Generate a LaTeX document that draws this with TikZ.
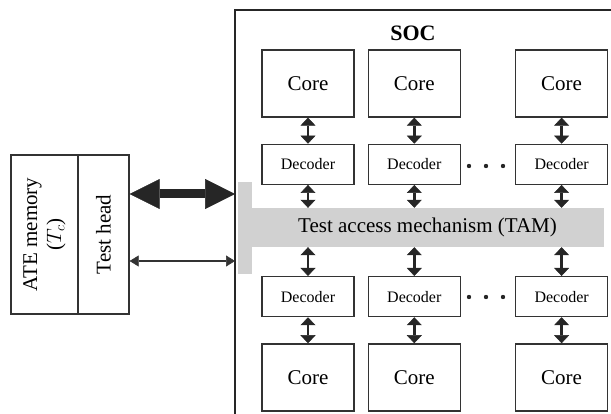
\documentclass[tikz,border=0pt]{standalone}
\usepackage{fontspec}
\setmainfont{Liberation Serif}
\usetikzlibrary{positioning, arrows.meta}
\tikzset{
x=1pt, y=-1pt, % one unit per pixel, y grows downwards
core/.style={draw=black!80, line width=1.3pt, minimum width=92pt, minimum height=67pt, inner sep=0pt, font=\fontsize{21}{21}\selectfont}, % the core boxes
dec/.style={core, minimum height=40pt, font=\fontsize{16}{16}\selectfont}, % the decoder boxes
link/.style={{Triangle[width=15pt,length=8pt,line width=0.5pt]}-{Triangle[width=15pt,length=8pt,line width=0.5pt]}, line width=2.4pt, draw=black!85}, % short arrows between the boxes
bus/.style={{Triangle[width=30pt,length=30pt,line width=0.5pt]}-{Triangle[width=30pt,length=30pt,line width=0.5pt]}, line width=9pt, draw=black!85}, % wide link to the tester
wire/.style={{Triangle[width=11pt,length=9pt,line width=0.5pt]}-{Triangle[width=11pt,length=9pt,line width=0.5pt]}, line width=1.4pt, draw=black!80}, % thin link to the tester
ate/.style={draw=black!80, line width=1.3pt, rotate=90, minimum width=159pt, inner sep=0pt, align=center, font=\fontsize{21}{24}\selectfont}, % tester boxes
tamfill/.style={fill=black!18}, % grey of the TAM
}

\begin{document}
\begin{tikzpicture}
    \useasboundingbox (0,0) rectangle (611,414);
    % SOC frame (runs off the picture)
    \draw[draw=black!85, line width=2.8pt] (620,10) -| (235,420);
    \node[font=\bfseries\fontsize{22}{22}\selectfont] (soc) at (413,33) {SOC};

    % tester
    \node[ate, minimum height=67pt] (mem) at (44.5,234.5) {ATE memory\\($T_c$)};
    \node[ate, minimum height=51pt] (head) at (103.5,234.5) {Test head};

    % TAM
    \fill[tamfill] (238,182) rectangle (252,274);
    \node[tamfill, minimum width=353pt, minimum height=39pt, inner sep=0pt, font=\fontsize{21}{21}\selectfont] (tam) at (427.5,227.5) {Test access mechanism (TAM)};
    \coordinate (hub1) at (235,194);
    \coordinate (hub2) at (235,261);

    % upper row
    \node[core] (c1) at (308,83.5) {Core};
    \node[core, right=13pt of c1] (c2) {Core};
    \node[core, right=54pt of c2] (c3) {Core};
    \node[dec, below=26pt of c1] (d1) {Decoder};
    \node[dec, below=26pt of c2] (d2) {Decoder};
    \node[dec, below=26pt of c3] (d3) {Decoder};

    % lower row
    \node[dec, below=91pt of d1] (e1) {Decoder};
    \node[dec, below=91pt of d2] (e2) {Decoder};
    \node[dec, below=91pt of d3] (e3) {Decoder};
    \node[core, below=26pt of e1] (f1) {Core};
    \node[core, below=26pt of e2] (f2) {Core};
    \node[core, below=26pt of e3] (f3) {Core};

    % dots between the columns
    \foreach \x in {469,486,503} {
        \fill[black!85] (\x,166) circle (2.2);
        \fill[black!85] (\x,297) circle (2.2);
    }

    \draw
    (c1) edge[link] (d1)
    (c2) edge[link] (d2)
    (c3) edge[link] (d3)
    (d1) edge[link] (d1 |- tam.north)
    (d2) edge[link] (d2 |- tam.north)
    (d3) edge[link] (d3 |- tam.north)
    (e1 |- tam.south) edge[link] (e1)
    (e2 |- tam.south) edge[link] (e2)
    (e3 |- tam.south) edge[link] (e3)
    (e1) edge[link] (f1)
    (e2) edge[link] (f2)
    (e3) edge[link] (f3)
    (head.south |- hub1) edge[bus] (hub1)
    (head.south |- hub2) edge[wire] (hub2);
\end{tikzpicture}
\end{document}
